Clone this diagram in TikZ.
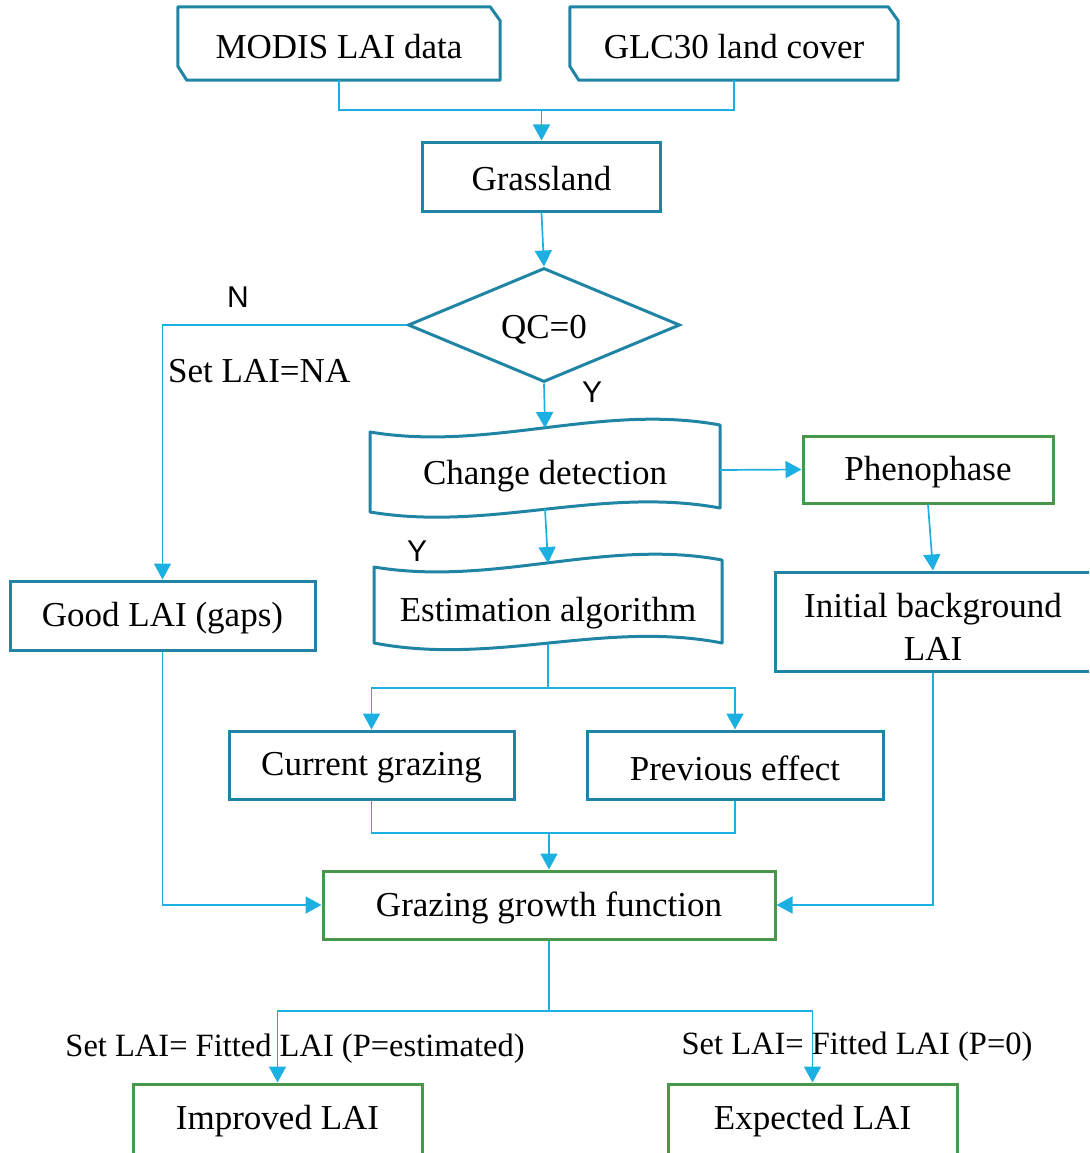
\documentclass[tikz,border=0pt]{standalone}
\usepackage{fontspec}
\setmainfont{Liberation Serif}
\newfontfamily\labelsans{Liberation Sans}
\usetikzlibrary{arrows.meta,shapes.geometric}

\definecolor{boxblue}{RGB}{32,132,165}
\definecolor{linkblue}{RGB}{28,176,226}
\definecolor{boxgreen}{RGB}{74,150,74}

% lower a label inside its box without changing the box geometry
\newcommand{\dn}[2][3pt]{\raisebox{-#1}[\height][\depth]{#2}}

\tikzset{
  txt/.style={font=\fontsize{35}{42}\selectfont, text=black},
  box/.style={txt, draw=boxblue, line width=3pt, inner sep=0pt, align=center},
  gbox/.style={box, draw=boxgreen},
  ghost/.style={txt, inner sep=0pt},
  outline/.style={draw=boxblue, line width=3pt, line join=round},
  link/.style={draw=linkblue, line width=1.7pt},
  arr/.style={link, -{Triangle[length=16pt,width=17pt]}},
  yn/.style={font=\labelsans\fontsize{30}{36}\selectfont, text=black},
  note/.style={font=\fontsize{32.5}{38}\selectfont, text=black, inner sep=0pt},
}

\begin{document}
\begin{tikzpicture}[x=1pt,y=-1pt]
\useasboundingbox (0,0) rectangle (1089,1153);
\clip (0,0) rectangle (1089,1153);

% --- input data (chamfered boxes) ---
\node[ghost, minimum width=322pt, minimum height=73pt] (modis) at (339,43.5) {\dn{MODIS LAI data}};
\node[ghost, minimum width=328pt, minimum height=73pt] (glc) at (734,43.5) {\dn{GLC30 land cover}};
\foreach \b in {modis,glc}{
  \draw[outline] (\b.north west) -- ([xshift=-10pt]\b.north east) -- ([yshift=-14pt]\b.north east)
     -- (\b.south east) -- ([xshift=9pt]\b.south west) -- ([yshift=14pt]\b.south west) -- cycle;
}

\node[box, minimum width=238pt, minimum height=69pt] (grass) at (541.5,176.5) {\dn[2pt]{Grassland}};

% --- quality check ---
\node[txt, diamond, draw=boxblue, line width=3pt, aspect=2.4, inner sep=0pt,
      minimum width=272pt, minimum height=114pt] (qc) at (544,325) {\dn[5pt]{QC=0}};

% --- wavy process shapes ---
\node[ghost, minimum width=350pt, minimum height=70pt] (cd) at (545,473) {\dn{Change detection}};
\draw[outline] (370,432) .. controls (490,452) and (600,403) .. (720,425)
   -- (720,508) .. controls (600,486) and (490,532) .. (370,512) -- cycle;
\coordinate (cdtop) at (545,428);
\coordinate (cdbot) at (545,509);
\coordinate (cdright) at (720,470);

\node[ghost, minimum width=348pt, minimum height=70pt] (est) at (548,610) {\dn{Estimation algorithm}};
\draw[outline] (374,567) .. controls (494,587) and (604,538) .. (722,560)
   -- (722,643) .. controls (604,620) and (494,666) .. (374,643) -- cycle;
\coordinate (esttop) at (548,563);
\coordinate (estbot) at (548,644);

% --- side boxes ---
\node[box, minimum width=305pt, minimum height=69pt] (good) at (162.5,615.5) {\dn{Good LAI (gaps)}};
\node[gbox, minimum width=250pt, minimum height=67pt] (pheno) at (928,469.5) {\dn{Phenophase}};
\node[box, minimum width=316pt, minimum height=99pt] (init) at (933,621.5)
  {\dn[9pt]{\begin{tabular}{@{}c@{}}Initial background\\[1pt]LAI\end{tabular}}};

\node[box, minimum width=285pt, minimum height=68pt] (cur) at (371.5,765) {\dn{Current grazing}};
\node[box, minimum width=296pt, minimum height=68pt] (prev) at (735,765) {\dn{Previous effect}};
\node[gbox, minimum width=452pt, minimum height=68pt] (ggf) at (549,905) {\dn{Grazing growth function}};

\node[gbox, minimum width=289pt, minimum height=76pt] (imp) at (277.5,1122) {\dn[-1pt]{Improved LAI}};
\node[gbox, minimum width=289pt, minimum height=76pt] (expd) at (812.5,1122) {\dn[-1pt]{Expected LAI}};

% --- connectors ---
\coordinate (topjoin) at (541.5,110);
\draw[link] (modis.south) |- (topjoin) -| (glc.south);
\draw[arr] (topjoin) -- (grass.north);
\draw[arr] (grass.south) -- (qc.north);

\draw[arr] (qc.west) -| (good.north);
\node[yn] (nlab) at (238,297) {N};
\node[txt, anchor=west, inner sep=0pt] (nalab) at (168,371) {Set LAI=NA};

\draw[arr] (qc.south) -- (cdtop);
\node[yn] (ylab1) at (592,392) {Y};
\draw[arr] (cdright) -- (pheno.west);
\draw[arr] (cdbot) -- (esttop);
\node[yn] (ylab2) at (417,551) {Y};
\draw[arr] (pheno.south) -- (init.north);

\coordinate (split1) at (548,688);
\draw[link] (estbot) -- (split1);
\draw[arr] (split1) -| (cur.north);
\draw[arr] (split1) -| (prev.north);

\coordinate (join2) at (549,833);
\draw[link] (cur.south) |- (join2) -| (prev.south);
\draw[arr] (join2) -- (ggf.north);

\draw[arr] (good.south) |- (ggf.west);
\draw[arr] (init.south) |- (ggf.east);

\coordinate (split3) at (549,1011);
\draw[link] (ggf.south) -- (split3);
\draw[arr] (split3) -| (imp.north);
\draw[arr] (split3) -| (expd.north);

\node[note] (lab1) at (295,1049) {Set LAI= Fitted LAI (P=estimated)};
\node[note] (lab2) at (857,1047) {Set LAI= Fitted LAI (P=0)};
\end{tikzpicture}
\end{document}
